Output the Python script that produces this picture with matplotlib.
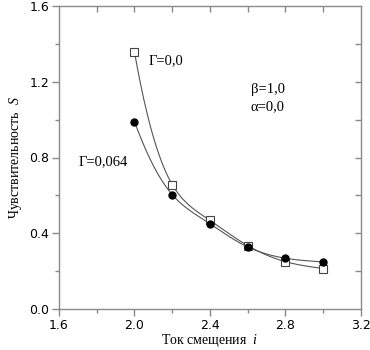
import numpy as np
import matplotlib
matplotlib.use("Agg")
import matplotlib.pyplot as plt
from matplotlib.ticker import MultipleLocator

plt.rcParams["mathtext.fontset"] = "custom"
plt.rcParams["mathtext.it"] = "Liberation Serif:italic"
plt.rcParams["mathtext.rm"] = "Liberation Serif"

# Data
x_vals = [2.0, 2.2, 2.4, 2.6, 2.8, 3.0]
s_gamma0 = [1.356, 0.657, 0.468, 0.335, 0.250, 0.214]
s_gamma064 = [0.990, 0.604, 0.450, 0.328, 0.268, 0.249]
x_ticks = [1.6, 2.0, 2.4, 2.8, 3.2]
y_ticks = [0.0, 0.4, 0.8, 1.2, 1.6]


def natural_spline(x, y, n=300):
    x = np.asarray(x, float); y = np.asarray(y, float)
    k = len(x); h = np.diff(x)
    A = np.zeros((k, k)); b = np.zeros(k)
    A[0, 0] = A[-1, -1] = 1
    for i in range(1, k - 1):
        A[i, i - 1] = h[i - 1]; A[i, i] = 2 * (h[i - 1] + h[i]); A[i, i + 1] = h[i]
        b[i] = 3 * ((y[i + 1] - y[i]) / h[i] - (y[i] - y[i - 1]) / h[i - 1])
    c = np.linalg.solve(A, b)
    xs = np.linspace(x[0], x[-1], n)
    idx = np.clip(np.searchsorted(x, xs) - 1, 0, k - 2)
    bb = (y[1:] - y[:-1]) / h - h * (2 * c[:-1] + c[1:]) / 3
    d = (c[1:] - c[:-1]) / (3 * h)
    dx = xs - x[idx]
    ys = y[idx] + bb[idx] * dx + c[idx] * dx ** 2 + d[idx] * dx ** 3
    return xs, ys


def smooth_curve(x, y):
    xs, ly = natural_spline(x, np.log(y))
    return xs, np.exp(ly)


fig = plt.figure(figsize=(3.7, 3.5), dpi=100)
ax = fig.add_axes([0.1595, 0.117, 0.816, 0.866])

spine_c = "#8a8a8a"
line_c = "#555555"

for xs, ys in (smooth_curve(x_vals, s_gamma0), smooth_curve(x_vals, s_gamma064)):
    ax.plot(xs, ys, color=line_c, lw=0.8, zorder=2)

ax.plot(x_vals, s_gamma0, linestyle="none", marker="s", ms=6, mfc="white",
        mec="#444444", mew=0.8, zorder=3)
ax.plot(x_vals, s_gamma064, linestyle="none", marker="o", ms=5, mfc="black",
        mec="black", zorder=4)

ax.set_xlim(1.6, 3.2)
ax.set_ylim(0.0, 1.6)
ax.set_xticks(x_ticks)
ax.set_yticks(y_ticks)
ax.set_xticklabels(["1.6", "2.0", "2.4", "2.8", "3.2"])
ax.set_yticklabels(["0.0", "0.4", "0.8", "1.2", "1.6"])
ax.xaxis.set_minor_locator(MultipleLocator(0.2))
ax.yaxis.set_minor_locator(MultipleLocator(0.2))

for s in ax.spines.values():
    s.set_color(spine_c)
    s.set_linewidth(1.0)

ax.tick_params(axis="both", which="major", direction="out", length=5, width=1,
               color=spine_c, labelsize=9, pad=2)
ax.tick_params(axis="both", which="minor", direction="out", length=3, width=1,
               color=spine_c)
ax.tick_params(axis="both", which="both", top=False, right=False)

# inward ticks on top and right spines
ax_t = ax.secondary_xaxis("top")
ax_t.set_xticks(np.arange(1.8, 3.2, 0.2))
ax_t.tick_params(direction="in", length=4, width=1, color=spine_c, labeltop=False)
ax_t.spines["top"].set_visible(False)
ax_r = ax.secondary_yaxis("right")
ax_r.set_yticks(np.arange(0.2, 1.6, 0.2))
ax_r.tick_params(direction="in", length=4, width=1, color=spine_c, labelright=False)
ax_r.spines["right"].set_visible(False)

serif = "Liberation Serif"
ax.set_xlabel("Ток смещения  $i$", fontfamily=serif, fontsize=10, labelpad=0)
ax.set_ylabel("Чувствительность  $S$", fontfamily=serif, fontsize=10, labelpad=4)

ax.text(2.075, 1.31, "Γ=0,0", fontfamily=serif, fontsize=10.5, va="center")
ax.text(2.615, 1.16, "β=1,0", fontfamily=serif, fontsize=10.5, va="center")
ax.text(2.615, 1.07, "α=0,0", fontfamily=serif, fontsize=10.5, va="center")
ax.text(1.705, 0.78, "Γ=0,064", fontfamily=serif, fontsize=10.5, va="center")

fig.savefig("out.png", dpi=100)
